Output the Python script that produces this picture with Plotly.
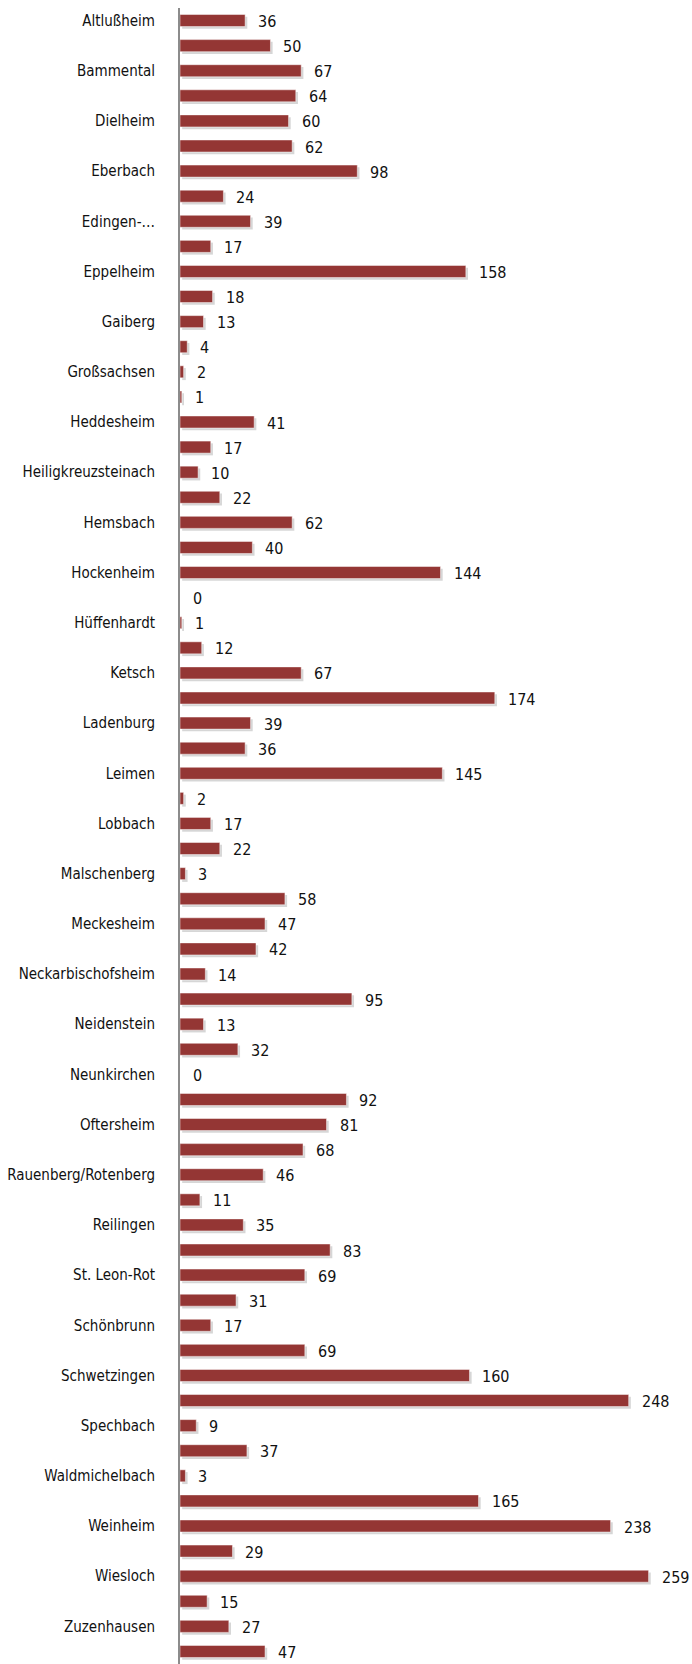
import plotly.graph_objects as go

# Values per municipality row, top to bottom
values = [36, 50, 67, 64, 60, 62, 98, 24, 39, 17, 158, 18, 13, 4, 2, 1,
          41, 17, 10, 22, 62, 40, 144, 0, 1, 12, 67, 174, 39, 36, 145, 2,
          17, 22, 3, 58, 47, 42, 14, 95, 13, 32, 0, 92, 81, 68, 46, 11,
          35, 83, 69, 31, 17, 69, 160, 248, 9, 37, 3, 165, 238, 29, 259,
          15, 27, 47]

# Every second row carries a visible name
tick_labels = ["Altlußheim", "Bammental", "Dielheim", "Eberbach", "Edingen-…",
               "Eppelheim", "Gaiberg", "Großsachsen", "Heddesheim",
               "Heiligkreuzsteinach", "Hemsbach", "Hockenheim", "Hüffenhardt",
               "Ketsch", "Ladenburg", "Leimen", "Lobbach", "Malschenberg",
               "Meckesheim", "Neckarbischofsheim", "Neidenstein", "Neunkirchen",
               "Oftersheim", "Rauenberg/Rotenberg", "Reilingen", "St. Leon-Rot",
               "Schönbrunn", "Schwetzingen", "Spechbach", "Waldmichelbach",
               "Weinheim", "Wiesloch", "Zuzenhausen"]

FONT = "DejaVu Sans Condensed, Liberation Sans Narrow, sans-serif"
BAR_COLOR = "#943634"
BAR_W = 0.48

rows = list(range(len(values)))
tick_rows = rows[::2]

fig = go.Figure()

# soft drop shadow under each bar
fig.add_trace(go.Bar(
    y=rows, x=values, orientation="h", base=1.2,
    width=BAR_W, offset=-BAR_W / 2 + 0.09,
    marker=dict(color="rgba(0,0,0,0.16)", line=dict(width=0)),
    hoverinfo="skip", showlegend=False,
))

fig.add_trace(go.Bar(
    y=rows, x=values, orientation="h",
    width=BAR_W, offset=-BAR_W / 2,
    marker=dict(color=BAR_COLOR, line=dict(color="rgba(255,255,255,0.6)", width=0.8)),
    showlegend=False,
))

for r, v in zip(rows, values):
    fig.add_annotation(x=v, y=r, text=str(v), showarrow=False,
                       xanchor="left", yanchor="middle", xshift=11, yshift=-1,
                       font=dict(family=FONT, size=16, color="#111"))

fig.update_layout(
    width=692, height=1664,
    margin=dict(l=180, r=0, t=8, b=0),
    paper_bgcolor="white", plot_bgcolor="white",
    barmode="overlay",
    xaxis=dict(range=[0, 283], visible=False, fixedrange=True),
    yaxis=dict(range=[len(values) - 0.5, -0.5], tickmode="array",
               tickvals=tick_rows, ticktext=tick_labels,
               showgrid=False, zeroline=False, automargin=False,
               showline=True, linecolor="#8c8c8c", linewidth=2,
               ticks="", ticklabelstandoff=20,
               tickfont=dict(family=FONT, size=15, color="#111")),
    font=dict(family=FONT),
)

fig.write_html("out.html")
